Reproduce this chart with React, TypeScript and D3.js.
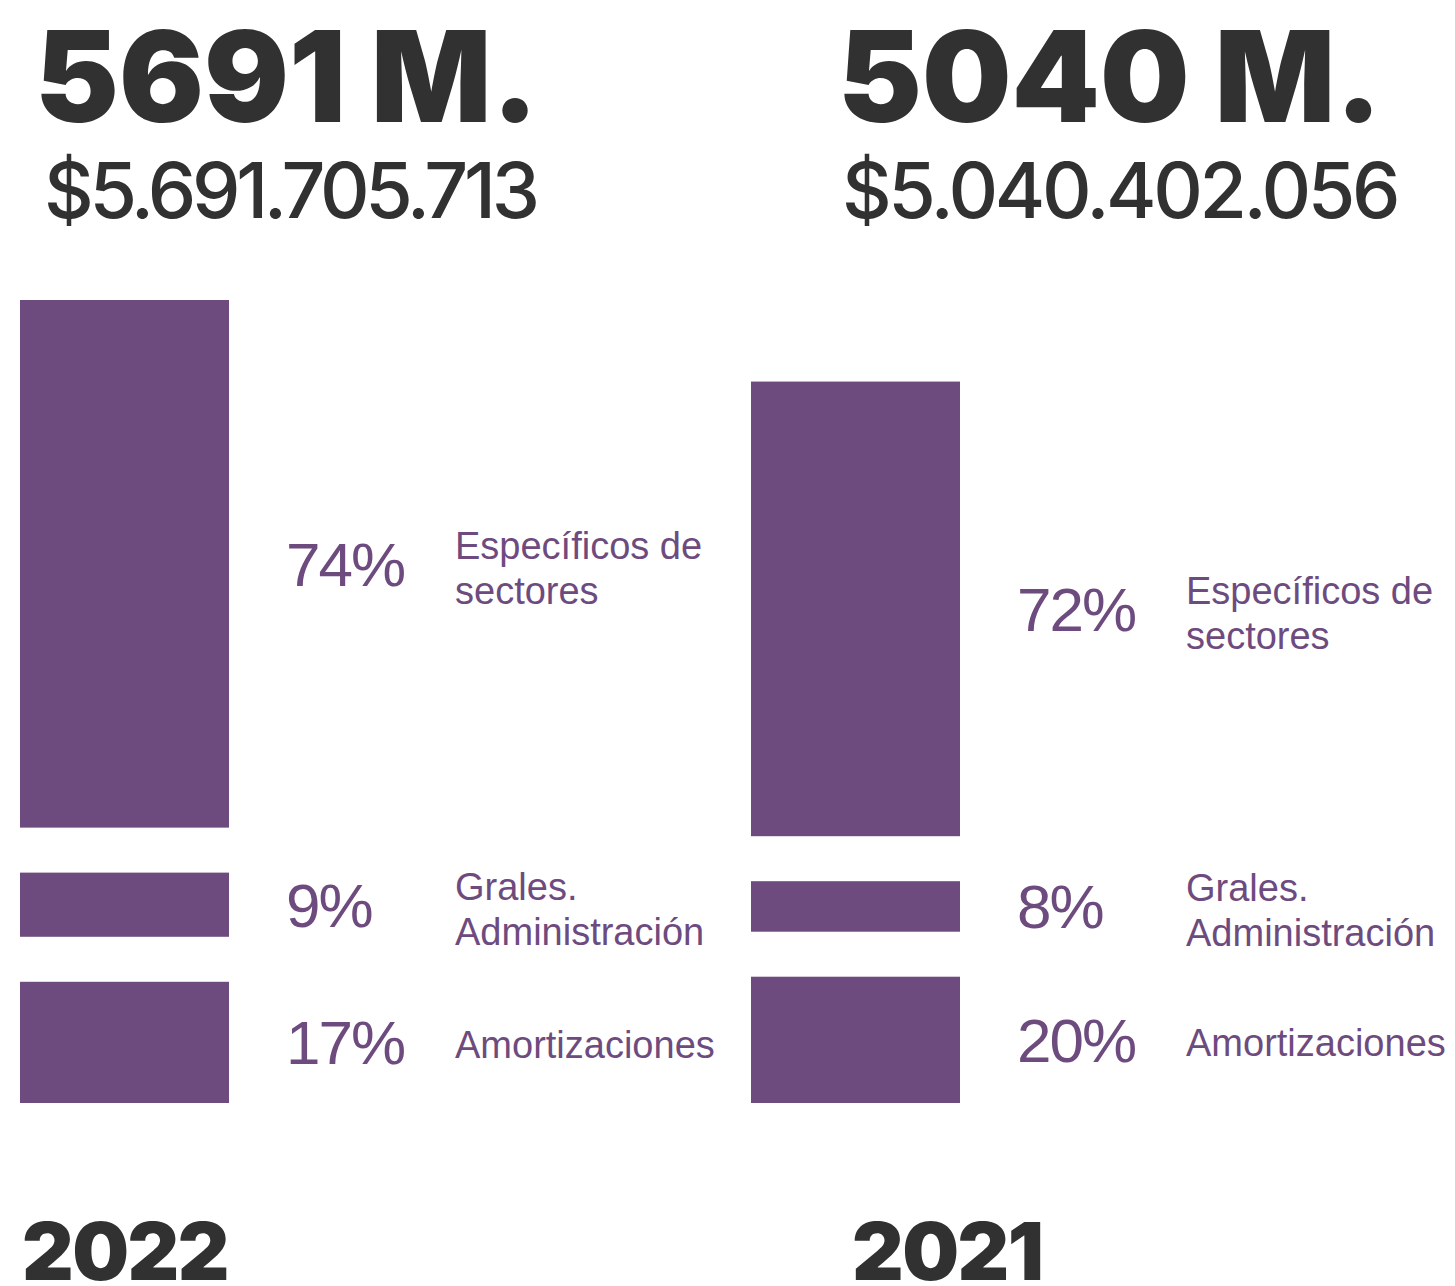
import { useEffect, useRef } from "react";
import { select, scaleLinear, scaleBand } from "d3";

// data
const years = ["2022", "2021"];
const totalsM = [5691, 5040];
const totalsFull = ["$5.691.705.713", "$5.040.402.056"];
const categoryLines = [["Específicos de", "sectores"], ["Grales.", "Administración"], ["Amortizaciones"]];
const shares2022 = [74, 9, 17];
const shares2021 = [72, 8, 20];
const shares = [shares2022, shares2021];

// layout
const Width = 1455;
const Height = 1286;
const headerX = [35, 838];
const moneyX = [44, 842];
const moneySpacing = [-4.3, -3.4];
const yearX = [22, 852];
const PURPLE = "#6e4b7e";
const DARK = "#313131";
const FONT = "'Liberation Sans', Arial, Helvetica, sans-serif";
const HEAVY = "Inter, 'Liberation Sans', Arial, sans-serif";

function App() {
    const svgRef = useRef<SVGSVGElement>(null);

    useEffect(() => {
        const svg = select(svgRef.current);
        svg.selectAll("*").remove();

        const bottom = 1103;
        const gap = 45;
        const barWidth = 209;

        // px per million
        const hScale = scaleLinear().domain([0, Math.max(...totalsM)]).range([0, 713]);
        const xBand = scaleBand().domain(years).range([20, 20 + 731 * 2]);

        years.forEach((year, i) => {
            const g = svg.append("g").attr("class", "col-" + year);
            const x0 = xBand(year) as number;
            const heights = shares[i].map((p) => hScale((p / 100) * totalsM[i]));
            // stack from the bottom up, first category on top
            let y = bottom;
            const tops: number[] = [];
            for (let k = heights.length - 1; k >= 0; k--) {
                y -= heights[k];
                tops[k] = y;
                y -= gap;
            }

            // header
            g.append("text")
                .attr("x", headerX[i])
                .attr("y", 122)
                .attr("font-size", 126)
                .attr("font-weight", 900)
                .attr("letter-spacing", 0)
                .attr("fill", DARK)
                .style("font-family", HEAVY)
                .text(totalsM[i] + " M.");

            g.append("text")
                .attr("x", moneyX[i])
                .attr("y", 218)
                .attr("font-size", 77)
                .attr("font-weight", 500)
                .attr("letter-spacing", moneySpacing[i])
                .attr("fill", DARK)
                .style("font-family", HEAVY)
                .text(totalsFull[i]);

            // bars
            g.selectAll(".bar")
                .data(heights)
                .join("rect")
                .attr("class", "bar")
                .attr("x", x0)
                .attr("y", (d, k) => tops[k])
                .attr("width", barWidth)
                .attr("height", (d) => d)
                .attr("fill", PURPLE);

            // percentages
            g.selectAll(".pct")
                .data(shares[i])
                .join("text")
                .attr("class", "pct")
                .attr("x", x0 + 266)
                .attr("y", (d, k) => tops[k] + heights[k] / 2 + 22)
                .attr("font-size", 62)
                .attr("letter-spacing", -2)
                .attr("fill", PURPLE)
                .style("font-family", FONT)
                .text((d) => d + "%");

            // category labels
            categoryLines.forEach((lines, k) => {
                const mid = tops[k] + heights[k] / 2;
                const first = lines.length === 1 ? mid + 16 : mid - 5;
                const t = g.append("text")
                    .attr("font-size", 38)
                    .attr("fill", PURPLE)
                    .style("font-family", FONT);
                lines.forEach((line, j) => {
                    t.append("tspan")
                        .attr("x", x0 + 435)
                        .attr("y", first + j * 45)
                        .text(line);
                });
            });

            // year
            g.append("text")
                .attr("x", yearX[i])
                .attr("y", 1280)
                .attr("font-size", 80)
                .attr("font-weight", 900)
                .attr("letter-spacing", -1.5)
                .attr("fill", DARK)
                .style("font-family", HEAVY)
                .text(year);
        });
    }, []);

    return (
        <div style={{ position: "absolute", left: 0, top: 0 }}>
            <svg ref={svgRef} width={Width} height={Height} style={{ display: "block", background: "#fff" }}></svg>
        </div>
    );
}

export default App;
